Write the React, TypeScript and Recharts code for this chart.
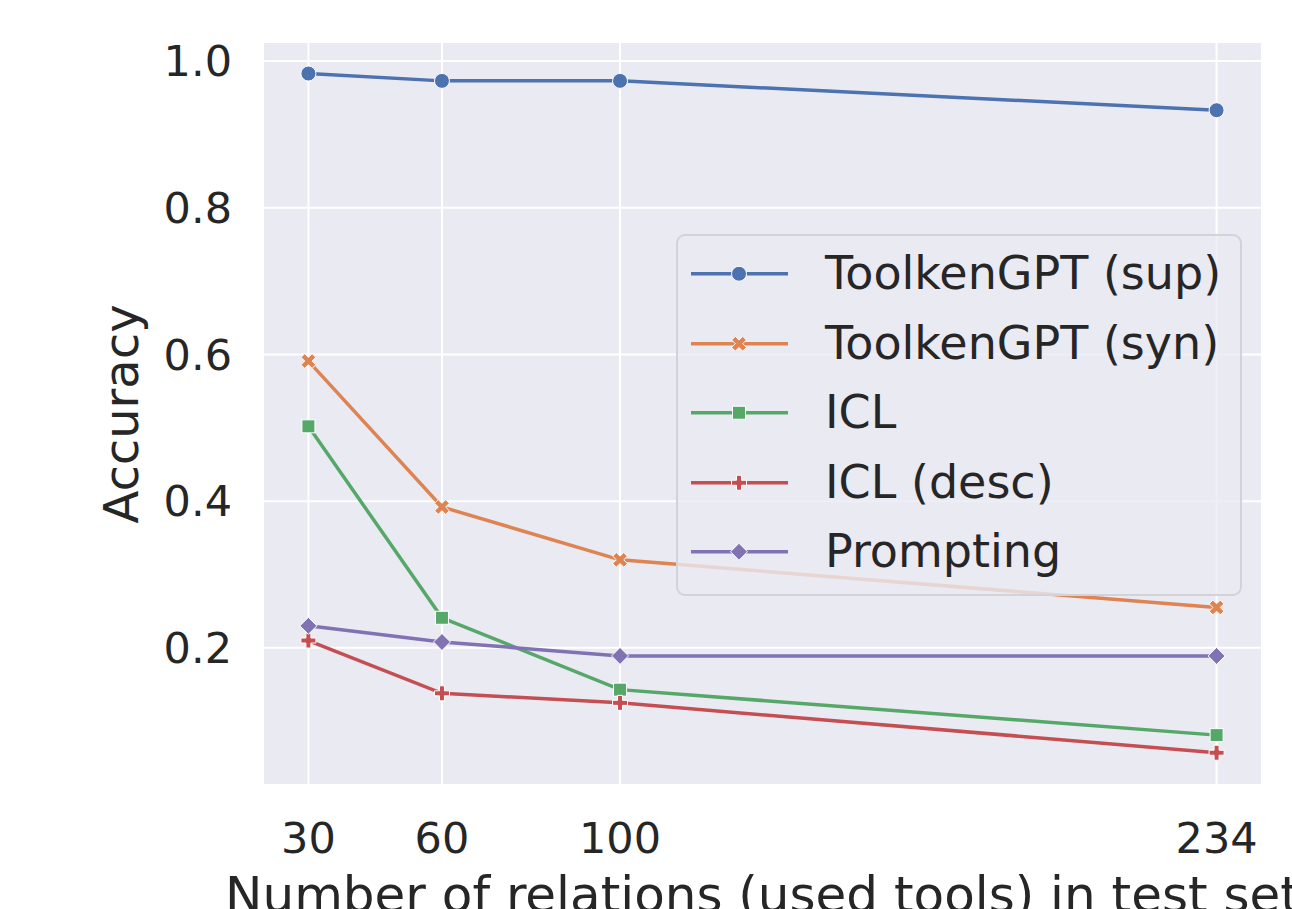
import React from "react";
import { LineChart, Line, XAxis, YAxis, CartesianGrid, Legend } from "recharts";

const relations = [30, 60, 100, 234];
const supAcc = [0.983, 0.973, 0.973, 0.933];
const synAcc = [0.591, 0.392, 0.32, 0.255];
const iclAcc = [0.502, 0.241, 0.143, 0.081];
const iclDescAcc = [0.21, 0.138, 0.125, 0.057];
const promptAcc = [0.23, 0.208, 0.189, 0.189];
const yTicks = [0.2, 0.4, 0.6, 0.8, 1.0];

const SERIES = [
  { key: "sup", name: "ToolkenGPT (sup)", color: "#4C72B0", marker: "circle", values: supAcc },
  { key: "syn", name: "ToolkenGPT (syn)", color: "#DD8452", marker: "x", values: synAcc },
  { key: "icl", name: "ICL", color: "#55A868", marker: "square", values: iclAcc },
  { key: "desc", name: "ICL (desc)", color: "#C44E52", marker: "plus", values: iclDescAcc },
  { key: "prompt", name: "Prompting", color: "#8172B3", marker: "diamond", values: promptAcc },
];

const data = relations.map((r, i) => {
  const row: Record<string, number> = { relations: r };
  SERIES.forEach(s => (row[s.key] = s.values[i]));
  return row;
});

const FONT = "'DejaVu Sans', sans-serif";
const TEXT = "#262626";

// matplotlib-ish filled markers
function Marker({ cx, cy, type, color }: { cx: number; cy: number; type: string; color: string }) {
  const common = { fill: color, stroke: "#ffffff", strokeWidth: 1 };
  const poly = (pts: number[][], scale: number) =>
    pts.map(([x, y]) => `${cx + x * scale},${cy + y * scale}`).join(" ");
  if (type === "circle") return <circle cx={cx} cy={cy} r={7.5} {...common} />;
  if (type === "square") return <rect x={cx - 6.5} y={cy - 6.5} width={13} height={13} {...common} />;
  if (type === "diamond")
    return <polygon points={poly([[0, -1], [1, 0], [0, 1], [-1, 0]], 8.5)} {...common} />;
  if (type === "x")
    return (
      <polygon
        points={poly(
          [[-1, -2], [0, -1], [1, -2], [2, -1], [1, 0], [2, 1], [1, 2], [0, 1], [-1, 2], [-2, 1], [-1, 0], [-2, -1]],
          3.7
        )}
        {...common}
      />
    );
  return (
    <polygon
      points={poly(
        [[-1, -3], [1, -3], [1, -1], [3, -1], [3, 1], [1, 1], [1, 3], [-1, 3], [-1, 1], [-3, 1], [-3, -1], [-1, -1]],
        2.5
      )}
      {...common}
    />
  );
}

function LegendBox() {
  return (
    <div
      style={{
        width: 566,
        height: 362,
        boxSizing: "border-box",
        background: "rgba(234,234,242,0.8)",
        border: "2px solid #d2d2d8",
        borderRadius: 9,
        paddingTop: 3,
        fontFamily: FONT,
        fontSize: 46,
        color: TEXT,
      }}
    >
      {SERIES.map(s => (
        <div key={s.key} style={{ display: "flex", alignItems: "center", height: 69.5 }}>
          <svg width={147} height={69.5} style={{ flex: "none" }}>
            <line x1={13} x2={110} y1={34.75} y2={34.75} stroke={s.color} strokeWidth={3.5} />
            <Marker cx={61} cy={34.75} type={s.marker} color={s.color} />
          </svg>
          <span style={{ whiteSpace: "nowrap", lineHeight: "69.5px" }}>{s.name}</span>
        </div>
      ))}
    </div>
  );
}

export default function App() {
  return (
    <div style={{ position: "absolute", left: 0, top: 0 }}>
      <LineChart width={1292} height={909} data={data} margin={{ top: 42, right: 30, left: 0, bottom: 0 }}>
        <CartesianGrid fill="#EAEAF2" stroke="#ffffff" strokeWidth={2} />
        <XAxis
          dataKey="relations"
          type="number"
          domain={[19.8, 244.2]}
          ticks={relations}
          allowDataOverflow
          height={124}
          axisLine={false}
          tickLine={false}
          tickSize={0}
          tickMargin={37}
          tick={{ fontSize: 43, fill: TEXT, fontFamily: FONT }}
          label={{
            value: "Number of relations (used tools) in test set",
            position: "insideBottom",
            offset: -3,
            fontSize: 50,
            fill: TEXT,
            fontFamily: FONT,
          }}
        />
        <YAxis
          type="number"
          domain={[0.013, 1.026]}
          ticks={yTicks}
          allowDataOverflow
          width={263}
          axisLine={false}
          tickLine={false}
          tickSize={0}
          tickMargin={31}
          tickFormatter={(v: number) => v.toFixed(1)}
          tick={{ fontSize: 43, fill: TEXT, fontFamily: FONT }}
          label={{
            content: () => (
              <text
                x={138}
                y={414}
                transform="rotate(-90, 138, 414)"
                textAnchor="middle"
                fontSize={48}
                fill={TEXT}
                fontFamily={FONT}
              >
                Accuracy
              </text>
            ),
          }}
        />
        {SERIES.map(s => (
          <Line
            key={s.key}
            dataKey={s.key}
            name={s.name}
            stroke={s.color}
            strokeWidth={3.5}
            isAnimationActive={false}
            dot={(p: any) => <Marker key={`${s.key}-${p.index}`} cx={p.cx} cy={p.cy} type={s.marker} color={s.color} />}
            activeDot={false}
          />
        ))}
        <Legend
          layout="vertical"
          align="center"
          verticalAlign="middle"
          wrapperStyle={{ left: 676, top: 234, width: 566, height: 362 }}
          content={() => <LegendBox />}
        />
      </LineChart>
    </div>
  );
}
